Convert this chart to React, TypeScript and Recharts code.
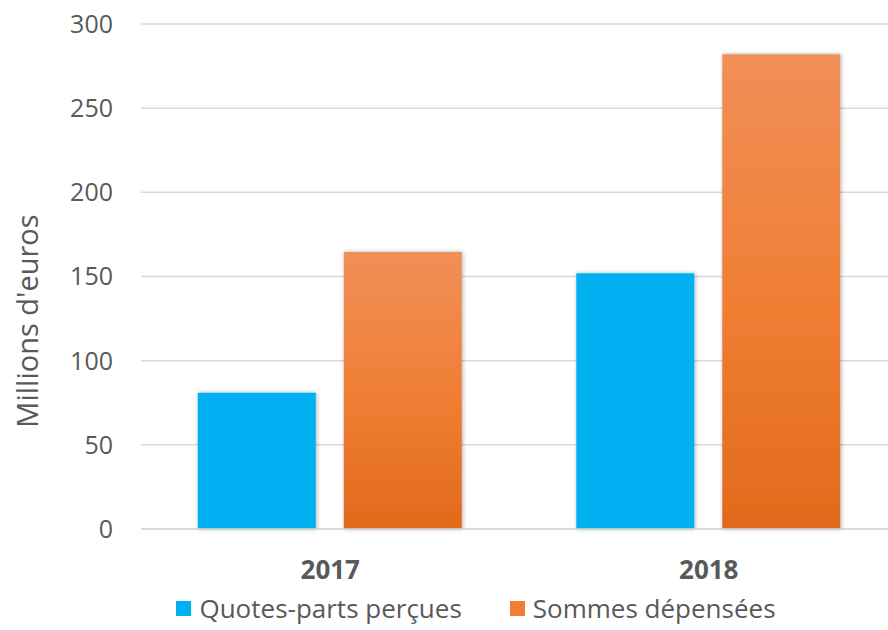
import React from 'react';
import { BarChart, Bar, XAxis, YAxis, CartesianGrid, Legend, Label } from 'recharts';

const years = ['2017', '2018'];
const quotesParts = [81, 152];
const sommesDepensees = [164.5, 282];
const yTicks = [0, 50, 100, 150, 200, 250, 300];

const data = years.map((year, i) => ({
  year,
  quotes: quotesParts[i],
  sommes: sommesDepensees[i],
}));

const FONT = '"Open Sans", "Noto Sans", sans-serif';
const TEXT = '#595959';

const legendItems = [
  { label: 'Quotes-parts perçues', color: '#00B0F0' },
  { label: 'Sommes dépensées', color: '#F07F35' },
];

const renderLegend = () => (
  <div style={{ display: 'flex', justifyContent: 'center', gap: 48, fontFamily: FONT, fontSize: 26, color: TEXT, width: 888, paddingLeft: 64, boxSizing: 'border-box' }}>
    {legendItems.map((item) => (
      <div key={item.label} style={{ display: 'flex', alignItems: 'center' }}>
        <span style={{ width: 15, height: 15, background: item.color, display: 'inline-block', marginRight: 8 }} />
        <span>{item.label}</span>
      </div>
    ))}
  </div>
);

// rotated axis title, placed like the original
const renderYLabel = () => (
  <text
    x={26}
    y={321}
    transform="rotate(-90, 26, 321)"
    textAnchor="middle"
    dominantBaseline="central"
    fill={TEXT}
    fontSize={29}
    fontFamily={FONT}
  >
    Millions d'euros
  </text>
);

export default function App() {
  return (
    <div style={{ position: 'absolute', left: 0, top: 0, width: 888, height: 630, overflow: 'hidden', background: '#fff' }}>
      <BarChart
        width={898}
        height={630}
        data={data}
        margin={{ top: 24, right: 0, bottom: 4, left: 0 }}
        barCategoryGap="15%"
        barGap={28}
      >
        <defs>
          <linearGradient id="orangeGrad" x1="0" y1="0" x2="0" y2="1">
            <stop offset="0%" stopColor="#F08F58" />
            <stop offset="50%" stopColor="#F07F35" />
            <stop offset="100%" stopColor="#E26A1C" />
          </linearGradient>
          <filter id="shadow" x="-10%" y="-10%" width="120%" height="120%">
            <feDropShadow dx="1" dy="0" stdDeviation="2" floodColor="#000" floodOpacity="0.3" />
          </filter>
        </defs>
        <CartesianGrid vertical={false} stroke="#D9D9D9" strokeWidth={1.5} />
        <XAxis
          dataKey="year"
          axisLine={{ stroke: '#D9D9D9', strokeWidth: 1.5 }}
          tickLine={false}
          tick={{ fill: TEXT, fontSize: 26, fontWeight: 'bold', fontFamily: FONT }}
          tickMargin={26}
          height={61}
        />
        <YAxis
          domain={[0, 300]}
          ticks={yTicks}
          axisLine={false}
          tickLine={false}
          tick={{ fill: TEXT, fontSize: 25, fontFamily: FONT }}
          tickMargin={22}
          width={141}
        >
          <Label content={renderYLabel} />
        </YAxis>
        <Legend verticalAlign="bottom" content={renderLegend} wrapperStyle={{ width: 888, left: 0 }} />
        <Bar dataKey="quotes" name="Quotes-parts perçues" fill="#00B0F0" filter="url(#shadow)" isAnimationActive={false} />
        <Bar dataKey="sommes" name="Sommes dépensées" fill="url(#orangeGrad)" filter="url(#shadow)" isAnimationActive={false} />
      </BarChart>
    </div>
  );
}
